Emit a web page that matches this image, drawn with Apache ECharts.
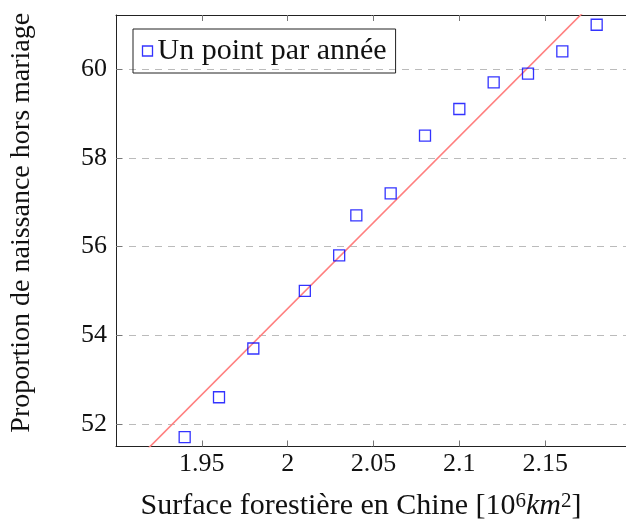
<!DOCTYPE html>
<html>
<head>
<meta charset="utf-8">
<script src="https://cdn.jsdelivr.net/npm/echarts@6/dist/echarts.min.js"></script>
<style>html,body{margin:0;padding:0;background:#fff;}#c{width:626px;height:521px;}</style>
</head>
<body>
<div id="c"></div>
<script>
var forestArea = [1.94, 1.96, 1.98, 2.01, 2.03, 2.04, 2.06, 2.08, 2.10, 2.12, 2.14, 2.16, 2.18];
var birthShare = [51.7, 52.6, 53.7, 55.0, 55.8, 56.7, 57.2, 58.5, 59.1, 59.7, 59.9, 60.4, 61.0];
var fitX = [1.90, 2.20];
var fitY = [50.72, 62.36];
var yTicks = [52, 54, 56, 58, 60];
var xTicks = [1.95, 2.0, 2.05, 2.1, 2.15];
var seriesName = 'Un point par année';

var font = "'Liberation Serif', 'DejaVu Serif', serif";
var chart = echarts.init(document.getElementById('c'));
var xCommon = {
  type: 'value', min: 1.90, max: 2.20,
  axisLine: {show: true, onZero: false, lineStyle: {color: '#222', width: 1}},
  axisTick: {show: true, inside: true, length: 6, customValues: xTicks, lineStyle: {color: '#777'}},
  splitLine: {show: false}
};
chart.setOption({
  animation: false,
  grid: {left: 116, right: -5, top: 15, bottom: 74.5, containLabel: false, outerBoundsMode: 'none'},
  legend: {
    left: 133, top: 29,
    data: [{name: seriesName, icon: 'rect', itemStyle: {color: 'none', borderColor: '#0000ff', borderWidth: 1.3}}],
    itemWidth: 10, itemHeight: 10, itemGap: 0,
    padding: [6, 9, 6, 7],
    borderColor: '#222', borderWidth: 1,
    textStyle: {fontFamily: font, fontSize: 30, lineHeight: 32, color: '#111'}
  },
  xAxis: [
    Object.assign({}, xCommon, {
      position: 'bottom',
      axisLabel: {show: true, customValues: xTicks, fontFamily: font, fontSize: 26, color: '#111', margin: 5},
      name: 'Surface forestière en Chine [10{sup|6}{it|km}{sup|2}]',
      nameLocation: 'middle', nameGap: 44,
      nameTextStyle: {fontFamily: font, fontSize: 30, color: '#111', padding: [0, 25, 0, 0],
        rich: {sup: {fontFamily: font, fontSize: 21, verticalAlign: 'top', padding: [0, 0, 10, 0]},
               it: {fontFamily: font, fontSize: 30, fontStyle: 'italic'}}}
    }),
    Object.assign({}, xCommon, {position: 'top', axisLabel: {show: false}})
  ],
  yAxis: {
    type: 'value', min: 51.49, max: 61.22,
    axisLine: {show: true, onZero: false, lineStyle: {color: '#222', width: 1}},
    axisTick: {show: true, inside: true, length: 6, customValues: yTicks, lineStyle: {color: '#777'}},
    axisLabel: {customValues: yTicks, fontFamily: font, fontSize: 26, color: '#111', margin: 9},
    splitLine: {show: true, lineStyle: {color: '#bbb', type: [7, 6], width: 1}},
    name: 'Proportion de naissance hors mariage',
    nameLocation: 'middle', nameGap: 80,
    nameTextStyle: {fontFamily: font, fontSize: 28, color: '#111', padding: [0, 0, 0, 16]}
  },
  series: [
    {
      type: 'line', data: fitX.map(function (x, i) { return [x, fitY[i]]; }),
      showSymbol: false, symbol: 'none', clip: true, silent: true,
      lineStyle: {color: '#ff7f7f', width: 1.6}, z: 2
    },
    {
      name: seriesName, type: 'scatter', symbol: 'rect', symbolSize: 11,
      data: forestArea.map(function (x, i) { return [x, birthShare[i]]; }),
      itemStyle: {color: 'none', borderColor: '#0000ff', borderWidth: 1.3}, z: 3
    }
  ]
});
</script>
</body>
</html>
